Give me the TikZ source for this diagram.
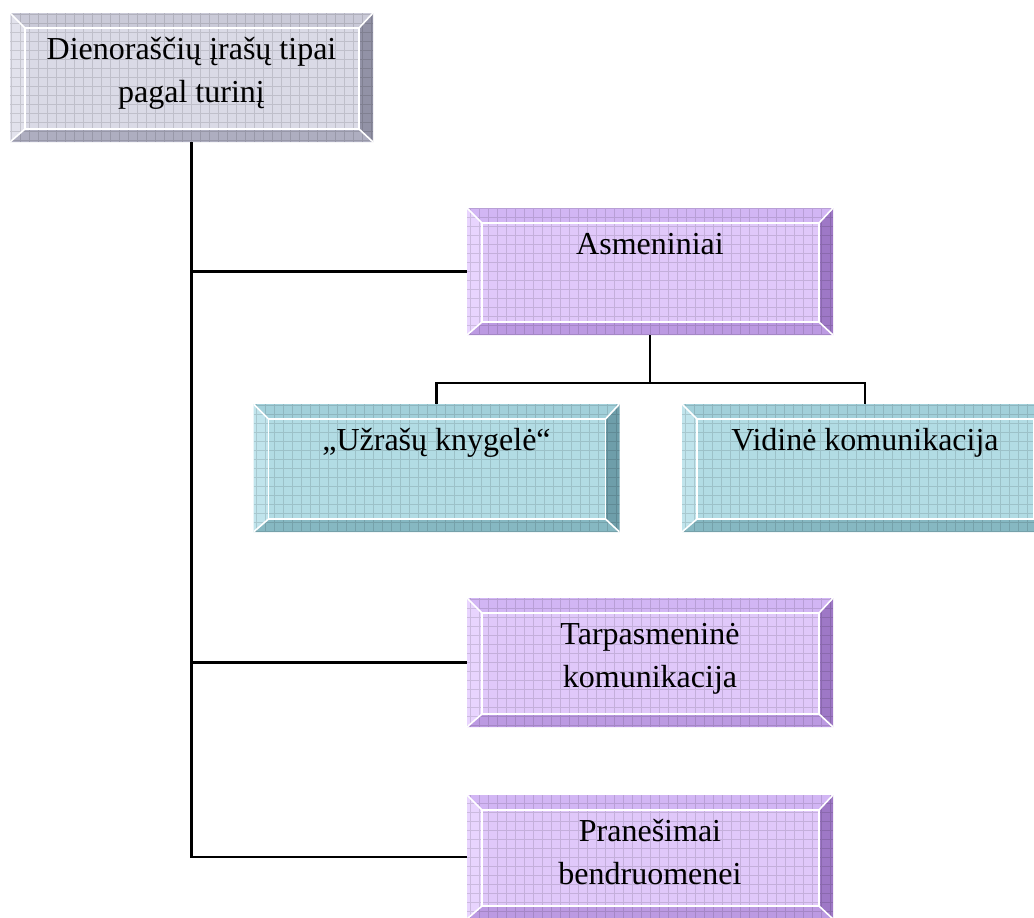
\documentclass[tikz,border=0pt]{standalone}
\usepackage{fontspec}
\setmainfont{Liberation Serif}
\usetikzlibrary{calc}

% face, top, left, right and bottom shades of each box colour
\definecolor{gface}{RGB}{218,218,230}
\definecolor{gtop}{RGB}{202,202,216}
\definecolor{gleft}{RGB}{226,226,236}
\definecolor{gright}{RGB}{146,146,166}
\definecolor{gbot}{RGB}{174,174,192}
\definecolor{pface}{RGB}{224,200,250}
\definecolor{ptop}{RGB}{210,182,244}
\definecolor{pleft}{RGB}{232,212,254}
\definecolor{pright}{RGB}{158,120,198}
\definecolor{pbot}{RGB}{188,154,226}
\definecolor{cface}{RGB}{178,220,228}
\definecolor{ctop}{RGB}{162,208,218}
\definecolor{cleft}{RGB}{192,228,236}
\definecolor{cright}{RGB}{110,158,170}
\definecolor{cbot}{RGB}{134,184,194}

% bevelled tile: four sloped edges, flat face, fine grid, white highlights
\newcommand\bevelart[5]{%
  \path (path picture bounding box.north west) coordinate (o1)
        (path picture bounding box.north east) coordinate (o2)
        (path picture bounding box.south east) coordinate (o3)
        (path picture bounding box.south west) coordinate (o4);
  \path ($(o1)+(15pt,-15pt)$) coordinate (i1)
        ($(o2)+(-14pt,-15pt)$) coordinate (i2)
        ($(o3)+(-14pt,13pt)$) coordinate (i3)
        ($(o4)+(15pt,13pt)$) coordinate (i4);
  \fill[#2] (o1)--(o2)--(i2)--(i1)--cycle;
  \fill[#3] (o1)--(i1)--(i4)--(o4)--cycle;
  \fill[#4] (o2)--(o3)--(i3)--(i2)--cycle;
  \fill[#5] (o4)--(i4)--(i3)--(o3)--cycle;
  \fill[#1] (i1)--(i2)--(i3)--(i4)--cycle;
  \draw[black, opacity=0.12, line width=0.8pt, step=9pt] (o4) grid (o2);
  \draw[white, line width=1.6pt] (i1)--(i2)--(i3)--(i4)--cycle;
  \draw[white, line width=1.6pt] (o1)--(i1) (o2)--(i2) (o3)--(i3) (o4)--(i4);
}

\tikzset{
  tile/.style={rectangle, inner sep=0pt, minimum width=366pt, minimum height=128pt},
  graytile/.style={tile, path picture={\bevelart{gface}{gtop}{gleft}{gright}{gbot}}},
  violettile/.style={tile, path picture={\bevelart{pface}{ptop}{pleft}{pright}{pbot}}},
  cyantile/.style={tile, path picture={\bevelart{cface}{ctop}{cleft}{cright}{cbot}}},
  caption/.style={anchor=north, yshift=-16pt, inner sep=0pt, align=center,
    font=\fontsize{32}{43}\selectfont, text=black},
  conn/.style={draw=black, line width=2.4pt},
}

\begin{document}
\begin{tikzpicture}[x=1pt, y=-1pt]
  \useasboundingbox (0,0) rectangle (1034,918);

  % tiles
  \node[graytile, minimum width=363pt, minimum height=129pt] (root) at (191.5,77.5) {};
  \node[violettile, minimum height=127pt] (asm) at (650,271.5) {};
  \node[cyantile] (uzr) at (436.5,468) {};
  \node[cyantile] (vid) at (865,468) {};
  \node[violettile, minimum height=129pt] (tarp) at (650,662.5) {};
  \node[violettile, minimum height=124pt] (pran) at (650,857) {};

  % captions
  \node[caption] (root-t) at (root.north) {\strut Dienoraščių įrašų tipai\\pagal turinį};
  \node[caption] (asm-t) at (asm.north) {\strut Asmeniniai};
  \node[caption] (uzr-t) at (uzr.north) {\strut „Užrašų knygelė“};
  \node[caption] (vid-t) at (vid.north) {\strut Vidinė komunikacija};
  \node[caption] (tarp-t) at (tarp.north) {\strut Tarpasmeninė\\komunikacija};
  \node[caption] (pran-t) at (pran.north) {\strut Pranešimai\\bendruomenei};

  % connectors
  \coordinate (fork) at (650,383);
  \draw[conn] (root.south) |- (pran.west);
  \draw[conn] (root.south |- asm.west) -- (asm.west);
  \draw[conn] (root.south |- tarp.west) -- (tarp.west);
  \draw[conn] (asm.south) -- (fork);
  \draw[conn] (uzr.north) |- (fork) -| (vid.north);
\end{tikzpicture}
\end{document}
